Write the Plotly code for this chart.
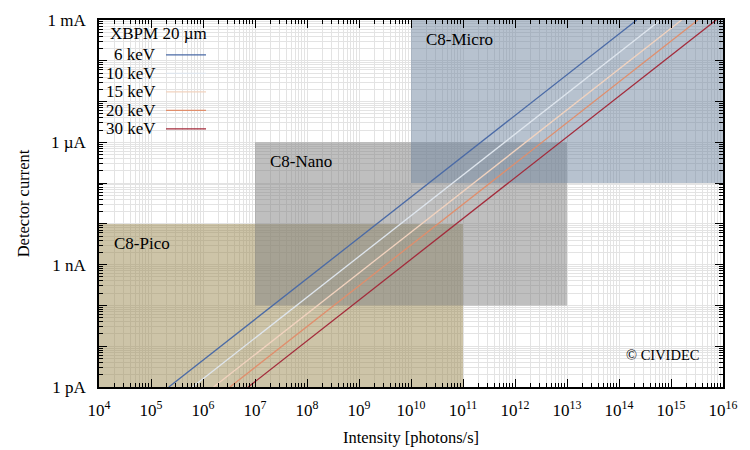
import plotly.graph_objects as go
import math

# ---------------- data ----------------
energy_labels = ["6 keV", "10 keV", "15 keV", "20 keV", "30 keV"]
intensity_at_1pA = [2.2e5, 6.3e5, 1.6e6, 3.3e6, 7.4e6]      # photons/s giving 1 pA
intensity_at_1mA = [2.2e14, 6.3e14, 1.6e15, 3.3e15, 7.4e15]  # photons/s giving 1 mA
current_ends = [1e-12, 1e-3]
line_colors = ["#4a6aa6", "#dfe6ee", "#f2d3bf", "#e08e6c", "#a32a3a"]

box_names = ["C8-Pico", "C8-Nano", "C8-Micro"]
box_x_min = [1e4, 1e7, 1e10]
box_x_max = [1e11, 1e13, 1e16]
box_y_min = [1e-12, 1e-10, 1e-7]
box_y_max = [1e-8, 1e-6, 1e-3]
box_colors = ["rgba(155,137,81,0.5)", "rgba(128,128,128,0.5)", "rgba(112,134,160,0.5)"]

x_tick_exps = list(range(4, 17))
y_tick_vals = [1e-12, 1e-11, 1e-10, 1e-9, 1e-8, 1e-7, 1e-6, 1e-5, 1e-4, 1e-3]
y_tick_text = ["1 pA", "", "", "1 nA", "", "", "1 µA", "", "", "1 mA"]

legend_title = "XBPM 20 µm"
copyright_text = "© CIVIDEC"

# ---------------- figure ----------------
FONT = "Liberation Serif, Times New Roman, serif"
FS = 17
fig = go.Figure()

for name, x0, x1, y0, y1, c in zip(box_names, box_x_min, box_x_max, box_y_min, box_y_max, box_colors):
    fig.add_trace(go.Scatter(
        x=[x0, x1, x1, x0, x0], y=[y0, y0, y1, y1, y0],
        mode="none", fill="toself", fillcolor=c,
        showlegend=False, hoverinfo="skip"))

for lab, xa, xb, c in zip(energy_labels, intensity_at_1pA, intensity_at_1mA, line_colors):
    fig.add_trace(go.Scatter(
        x=[xa, xb], y=current_ends, mode="lines", name=lab,
        line=dict(color=c, width=1.3), showlegend=False))

annotations = []
for name, x0, y1 in zip(box_names, box_x_min, box_y_max):
    annotations.append(dict(
        x=math.log10(x0), y=math.log10(y1), xref="x", yref="y",
        text=name, showarrow=False, xanchor="left", yanchor="top",
        xshift=13, yshift=-8, font=dict(family=FONT, size=FS, color="black")))

annotations.append(dict(
    x=0.964, y=0.087, xref="paper", yref="paper", text=copyright_text,
    showarrow=False, xanchor="right", yanchor="middle",
    font=dict(family=FONT, size=14.5, color="black")))

# custom gnuplot-style key (label then sample)
shapes = [dict(type="rect", xref="paper", yref="paper", x0=0.014, x1=0.183,
               y0=0.66, y1=0.998, fillcolor="white", line=dict(width=0),
               layer="between")]
annotations.append(dict(
    x=0.0955, y=0.962, xref="paper", yref="paper", text=legend_title,
    showarrow=False, xanchor="center", yanchor="middle",
    font=dict(family=FONT, size=FS, color="black")))
row_top, row_step = 0.905, 0.0504
for i, (lab, c) in enumerate(zip(energy_labels, line_colors)):
    yy = row_top - i * row_step
    annotations.append(dict(
        x=0.095, y=yy, xref="paper", yref="paper", text=lab,
        showarrow=False, xanchor="right", yanchor="middle",
        font=dict(family=FONT, size=FS, color="black")))
    shapes.append(dict(type="line", xref="paper", yref="paper",
                       x0=0.1074, x1=0.1715, y0=yy, y1=yy,
                       line=dict(color=c, width=1.3), layer="above"))

grid_col = "#e3e3e3"
fig.update_layout(
    width=750, height=450,
    margin=dict(l=99, r=27, t=20, b=63),
    paper_bgcolor="white", plot_bgcolor="white",
    font=dict(family=FONT, size=FS, color="black"),
    annotations=annotations, shapes=shapes,
)
fig.update_xaxes(
    type="log", range=[4, 16], automargin=False,
    tickmode="array", tickvals=[10 ** e for e in x_tick_exps],
    ticktext=["10<sup>%d</sup>" % e for e in x_tick_exps],
    tickfont=dict(family=FONT, size=FS),
    ticks="inside", ticklen=8, tickcolor="black", tickwidth=1,
    showline=True, linecolor="black", linewidth=1.5, mirror="allticks",
    showgrid=True, gridcolor=grid_col, gridwidth=1,
    minor=dict(dtick="D1", ticks="inside", ticklen=4, tickcolor="black",
               showgrid=True, gridcolor=grid_col, gridwidth=1),
    title=dict(text="Intensity [photons/s]", standoff=12,
               font=dict(family=FONT, size=16.5)),
    ticklabelstandoff=7, zeroline=False,
)
fig.update_yaxes(
    type="log", range=[-12, -3], automargin=False,
    tickmode="array", tickvals=y_tick_vals, ticktext=y_tick_text,
    tickfont=dict(family=FONT, size=FS),
    ticks="inside", ticklen=8, tickcolor="black", tickwidth=1,
    showline=True, linecolor="black", linewidth=1.5, mirror="allticks",
    showgrid=True, gridcolor=grid_col, gridwidth=1,
    minor=dict(dtick="D1", ticks="inside", ticklen=4, tickcolor="black",
               showgrid=True, gridcolor=grid_col, gridwidth=1),
    title=dict(text="Detector current", standoff=14,
               font=dict(family=FONT, size=16.5)),
    ticklabelstandoff=8, zeroline=False,
)

fig.write_html("out.html", config={"displayModeBar": False},
               post_script="document.body.style.margin='0px';")
